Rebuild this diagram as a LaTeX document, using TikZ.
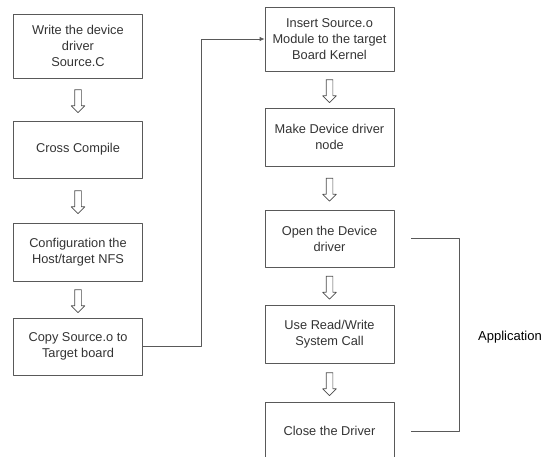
\documentclass[tikz,border=0pt]{standalone}
\usepackage{fontspec}
\setmainfont{Liberation Sans}
\usetikzlibrary{arrows.meta,shapes.arrows,calc}

\begin{document}
\begin{tikzpicture}[
			x=1pt,y=-1pt,
			line cap=round,
			line join=round,
			line width=0.8pt,
			stepbox/.style={draw=black!65,text=black!80,minimum width=129pt,
				align=center,inner sep=2pt,
				font=\fontsize{12.8}{16}\selectfont},
			hollow/.style={single arrow,draw=black!70,line width=0.7pt,
				rotate=-90,minimum height=23pt,
				single arrow head extend=3.5pt,inner xsep=0pt,inner ysep=3pt},
			link/.style={draw=black!65,line width=0.8pt}
			]
			
			\def\ColLeft{78}
			\def\ColRight{329.5}
			
			\newcommand{\StepArrow}[3]{%
				\node[hollow] (#1) at ($(#2.south)!0.5!(#3.north)$) {};
			}
			
			\useasboundingbox (0,0) rectangle (551,456);
			
			% Host side
			\node[stepbox,minimum height=64pt] (write) at (\ColLeft,46) {Write the device\\driver\\Source.C};
			\node[stepbox,minimum height=57pt] (compile) at (\ColLeft,149.5) {Cross Compile};
			\node[stepbox,minimum height=58pt] (nfs) at (\ColLeft,252) {Configuration the\\Host/target NFS};
			\node[stepbox,minimum height=57pt] (copy) at (\ColLeft,346.5) {Copy Source.o to\\Target board};
			
			\StepArrow{a1}{write}{compile}
			\StepArrow{a2}{compile}{nfs}
			\StepArrow{a3}{nfs}{copy}
			
			% Target side
			\node[stepbox,minimum height=64pt] (insert) at (\ColRight,39) {Insert Source.o\\Module to the target\\Board Kernel};
			\node[stepbox,minimum height=58pt] (mknod) at (\ColRight,137) {Make Device driver\\node};
			\node[stepbox,minimum height=57pt] (open) at (\ColRight,238.5) {Open the Device\\driver};
			\node[stepbox,minimum height=58pt] (rw) at (\ColRight,334) {Use Read/Write\\System Call};
			\node[stepbox,minimum height=58pt] (close) at (\ColRight,431) {Close the Driver};
			
			\StepArrow{b1}{insert}{mknod}
			\StepArrow{b2}{mknod}{open}
			\StepArrow{b3}{open}{rw}
			\StepArrow{b4}{rw}{close}
			
			% host -> target
			\coordinate (turn) at (201,0);
			\draw[link,-{Latex[length=5pt,width=4.5pt]}] (copy.east) -- (copy.east -| turn) |- (insert.west);
			
			% application bracket
			\coordinate (brtop) at ([xshift=17pt]open.east);
			\coordinate (brbot) at ([xshift=17pt]close.east);
			\draw[link] (brtop) -- ++(48,0) |- (brbot);
			\node[font=\fontsize{13}{16}\selectfont] (app) at (510,337) {Application};
			
		\end{tikzpicture}
\end{document}
